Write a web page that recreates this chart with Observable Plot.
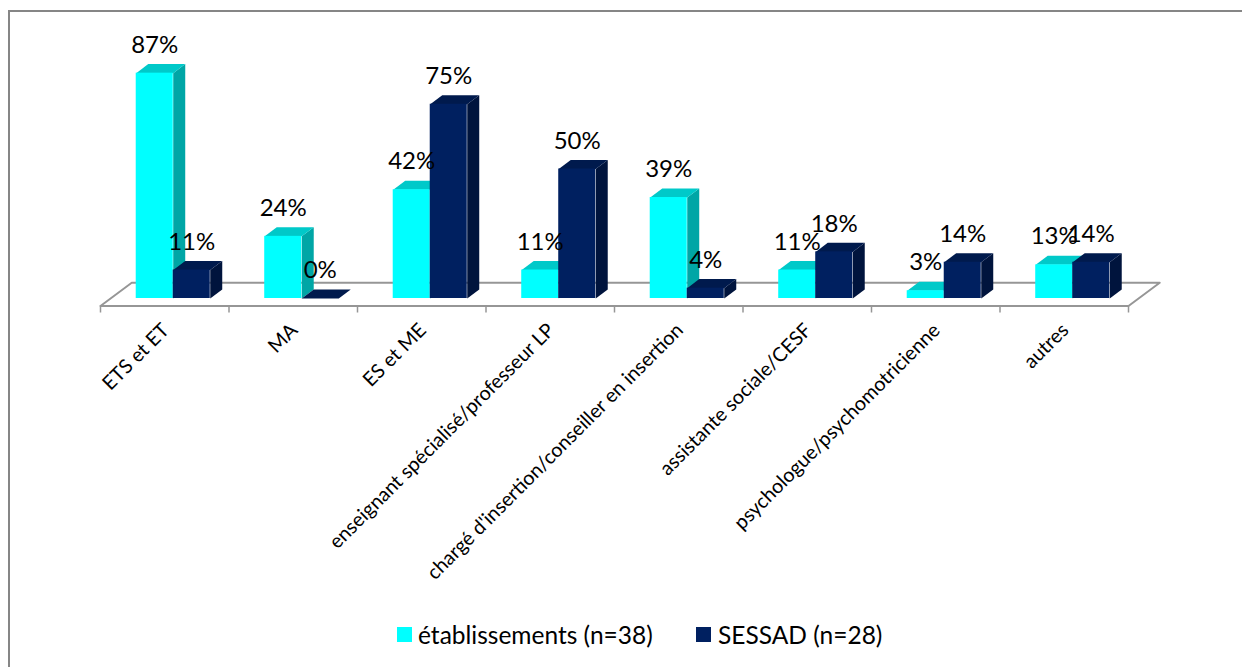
<!DOCTYPE html>
<html lang="fr">
<head>
<meta charset="utf-8">
<script src="https://cdn.jsdelivr.net/npm/d3@7"></script>
<script src="https://cdn.jsdelivr.net/npm/@observablehq/plot@0.6"></script>
<style>
  html, body { margin: 0; padding: 0; background: #fff; overflow: hidden; }
  #frame { position: absolute; left: 8px; top: 10px; width: 1234px; height: 657px; border-left: 2px solid #868686; border-top: 2px solid #868686; box-sizing: border-box; }
  #chart { position: absolute; left: 0; top: 0; }
  #legend { position: absolute; left: 0; top: 621px; width: 1242px; height: 30px; font: 24.5px Lato, sans-serif; color: #000; }
  #legend span.swatch { position: absolute; top: 6px; width: 15px; height: 15px; }
  #legend span.label { position: absolute; top: 0; line-height: 28px; white-space: nowrap; }
</style>
</head>
<body>
<div id="frame"></div>
<div id="chart"></div>
<div id="legend"></div>
<script>
// Professions represented in each type of structure, share of respondents in %
const categories = [
  "ETS et ET", "MA", "ES et ME",
  "enseignant spécialisé/professeur LP",
  "chargé d'insertion/conseiller en insertion",
  "assistante sociale/CESF",
  "psychologue/psychomotricienne",
  "autres"
];
const etablissements = [87, 24, 42, 11, 39, 11, 3, 13];
const sessad = [11, 0, 75, 50, 4, 18, 14, 14];
const seriesNames = ["établissements (n=38)", "SESSAD (n=28)"];

const palette = [
  {front: "#00ffff", top: "#00c9c9", side: "#00a6a6"},
  {front: "#002060", top: "#001a4d", side: "#00143d"}
];

// Bar geometry in scale units: one category spans 1 on x, one percent spans 1 on y
const barStart = 0.278, barWidth = 0.288;
const depthX = 0.0934, depthY = 3.5;
const floorFront = -2.9, floorBack = 6.1, floorShift = 0.243;

const rows = [etablissements, sessad];

function corners(s) {
  return categories.map((c, i) => {
    const x0 = i + barStart + s * barWidth, x1 = x0 + barWidth, v = rows[s][i];
    return {i, x0, x1, v};
  });
}
const topFace = (s) => corners(s).flatMap(({i, x0, x1, v}) => [
  {i, x: x0, y: v}, {i, x: x1, y: v},
  {i, x: x1 + depthX, y: v + depthY}, {i, x: x0 + depthX, y: v + depthY}
]);
const sideFace = (s) => corners(s).flatMap(({i, x1, v}) => [
  {i, x: x1, y: 0}, {i, x: x1, y: v},
  {i, x: x1 + depthX, y: v + depthY}, {i, x: x1 + depthX, y: depthY}
]);
const polygon = (data, fill) => Plot.line(data, {x: "x", y: "y", z: "i", fill, stroke: "none", curve: "linear-closed"});

const barMarks = (s) => [
  polygon(sideFace(s), palette[s].side),
  polygon(topFace(s), palette[s].top),
  Plot.rectY(corners(s).filter(d => d.v > 0), {x1: "x0", x2: "x1", y1: 0, y2: "v", fill: palette[s].front})
];

// Percent labels sit above the bar's top face, centred on its front face
const valueLabels = (s) => Plot.text(corners(s), {
  x: d => d.x0 + barWidth / 2,
  y: d => d.v + depthY,
  text: d => d.v + "%",
  dy: -19,
  fontSize: 24,
  fill: "#000"
});

const floorColor = "#969696";
const chart = Plot.plot({
  width: 1242,
  height: 620,
  margin: 0,
  style: {background: "transparent", fontFamily: "Lato, sans-serif"},
  x: {type: "linear", domain: [0, 8], range: [100, 1128], axis: null},
  y: {type: "linear", domain: [0, 100], range: [298, 39], axis: null},
  marks: [
    // back and side edges of the floor, behind the bars
    Plot.line([
      {x: 0, y: floorFront}, {x: floorShift, y: floorBack}, {x: 8 + floorShift, y: floorBack}, {x: 8, y: floorFront}
    ], {x: "x", y: "y", stroke: floorColor, strokeWidth: 2}),
    ...barMarks(0),
    ...barMarks(1),
    // front edge and ticks
    Plot.ruleY([floorFront], {x1: 0, x2: 8, stroke: floorColor, strokeWidth: 2}),
    Plot.ruleX(d3.range(9), {y1: floorFront, y2: floorFront - 2.7, stroke: floorColor, strokeWidth: 1.5}),
    valueLabels(0),
    valueLabels(1),
    Plot.text(categories, {
      x: (d, i) => i + 0.5,
      y: floorFront,
      text: d => d,
      rotate: -45,
      textAnchor: "end",
      dy: 21,
      dx: 1,
      fontSize: 19.8,
      fill: "#000"
    })
  ]
});
document.getElementById("chart").append(chart);

// Legend below the plot
const legend = document.getElementById("legend");
const items = [
  {name: seriesNames[0], color: palette[0].front, sx: 397, tx: 418},
  {name: seriesNames[1], color: palette[1].front, sx: 696, tx: 718}
];
for (const it of items) {
  const sw = document.createElement("span");
  sw.className = "swatch";
  sw.style.left = it.sx + "px";
  sw.style.background = it.color;
  const tx = document.createElement("span");
  tx.className = "label";
  tx.style.left = it.tx + "px";
  tx.textContent = it.name;
  legend.append(sw, tx);
}
</script>
</body>
</html>
